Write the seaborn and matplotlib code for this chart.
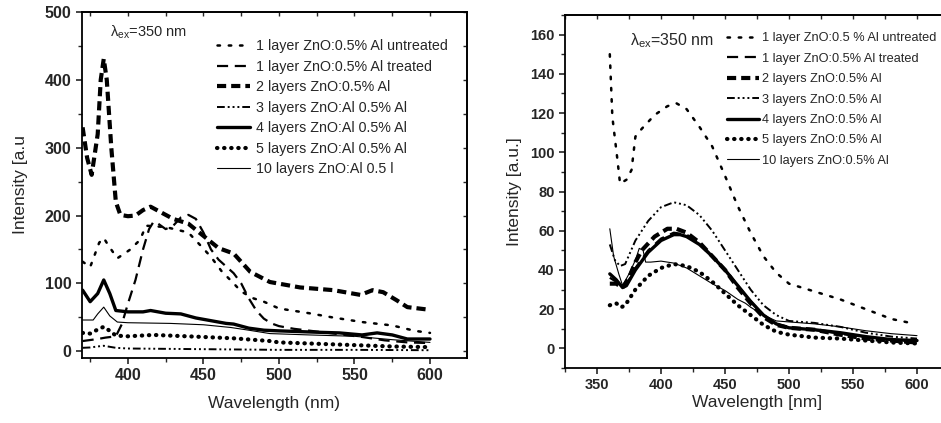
import matplotlib
matplotlib.use("Agg")
import matplotlib.pyplot as plt
from matplotlib.ticker import MultipleLocator
import seaborn as sns

# ---- left panel data ----
L_untreated_x = [370, 375, 381, 384, 387, 393, 401, 408, 412, 425, 440, 448, 455, 462, 470, 475, 483, 490, 500, 520, 535, 555, 575, 590, 600]
L_untreated_y = [132, 124, 160, 167, 156, 137, 149, 164, 185, 183, 175, 156, 139, 118, 100, 88, 78, 73, 63, 56, 50, 43, 38, 30, 27]

L_treated_x = [370, 380, 385, 392, 396, 400, 405, 410, 414, 417, 420, 425, 430, 435, 440, 445, 450, 455, 460, 465, 470, 475, 480, 485, 490, 495, 500, 510, 525, 540, 555, 570, 585, 600]
L_treated_y = [15, 18, 20, 22, 40, 70, 105, 150, 180, 191, 188, 180, 185, 197, 201, 195, 175, 150, 135, 125, 115, 100, 78, 60, 48, 41, 37, 33, 29, 25, 21, 16, 13, 12]

L_two_x = [370, 373, 376, 380, 382, 384, 386, 389, 392, 395, 400, 405, 410, 415, 420, 430, 440, 450, 460, 470, 481, 494, 514, 536, 554, 562, 569, 578, 585, 600]
L_two_y = [330, 285, 260, 320, 400, 431, 400, 300, 220, 201, 199, 200, 208, 213, 207, 195, 188, 170, 152, 144, 117, 102, 94, 90, 83, 90, 87, 75, 65, 61]

L_three_x = [370, 375, 380, 384, 388, 392, 400, 450, 500, 550, 600]
L_three_y = [5, 5.5, 7, 8, 6.5, 5, 4, 3, 2, 2, 1.5]

L_four_x = [370, 375, 380, 384, 388, 392, 400, 410, 415, 425, 435, 445, 455, 465, 470, 480, 490, 500, 525, 540, 555, 565, 575, 585, 600]
L_four_y = [90, 73, 85, 105, 85, 60, 58, 58, 60, 56, 55, 49, 45, 41, 40, 34, 31, 30, 28, 27, 24, 27, 24, 18, 18]

L_five_x = [370, 375, 380, 384, 388, 392, 400, 417, 450, 470, 494, 500, 525, 550, 575, 600]
L_five_y = [27, 26, 32, 36, 30, 23, 22, 24, 21, 19, 15, 13, 11, 9, 7, 6]

L_ten_x = [370, 377, 380, 384, 388, 393, 400, 428, 450, 468, 480, 494, 520, 550, 575, 600]
L_ten_y = [46, 46, 55, 65, 52, 43, 42, 41, 39, 35, 31, 26, 24, 22, 17, 13]

# ---- right panel data ----
R_untreated_x = [360, 362, 366, 368, 373, 377, 380, 385, 395, 405, 412, 420, 430, 440, 450, 460, 470, 480, 490, 500, 520, 540, 560, 580, 597]
R_untreated_y = [150, 118, 96, 84, 86, 91, 108, 112, 119, 123.5, 125, 122, 113, 103, 88, 72.5, 59, 47, 38.6, 33, 29, 25, 20, 15, 12.7]

R_treated_x = [360, 365, 370, 375, 380, 390, 400, 410, 420, 430, 440, 450, 460, 470, 480, 490, 500, 520, 540, 560, 580, 600]
R_treated_y = [36, 34, 31, 35, 41, 50, 56, 59, 58, 54, 47, 40, 32, 24, 17, 12.5, 10.5, 9.5, 7.5, 5.5, 4.5, 3.5]

R_two_x = [360, 365, 370, 375, 380, 385, 395, 405, 412, 420, 430, 440, 450, 460, 470, 480, 490, 500, 520, 540, 560, 580, 600]
R_two_y = [33, 33, 31, 36, 44, 50, 57, 61, 61, 59, 54, 47, 40, 31, 23, 16, 12, 10.5, 9.5, 7, 5, 4, 3]

R_three_x = [360, 364, 368, 372, 380, 390, 400, 410, 420, 430, 440, 450, 460, 470, 480, 490, 500, 520, 540, 560, 580, 600]
R_three_y = [53, 45, 42, 43, 55, 65, 72, 74.5, 73, 68, 60, 50, 40, 30, 22, 17, 14, 13, 11, 8, 6, 5]

R_four_x = [360, 365, 370, 373, 380, 390, 400, 410, 415, 420, 430, 440, 450, 460, 470, 480, 490, 500, 520, 540, 560, 580, 600]
R_four_y = [38, 35, 31, 32, 40, 49, 55, 58, 58, 57, 53, 47, 40, 32, 24, 17, 12.5, 10.5, 9.5, 8, 6, 4.5, 4]

R_five_x = [360, 365, 369, 372, 380, 390, 400, 410, 420, 430, 440, 450, 460, 470, 480, 490, 500, 520, 540, 560, 580, 600]
R_five_y = [22, 23, 21, 22, 30, 37, 41, 43, 42, 39, 34, 28, 22, 17, 12, 8.5, 7, 5.5, 5, 4, 3, 2.5]

R_ten_x = [360, 363, 367, 370, 375, 380, 383, 386, 388, 392, 400, 405, 410, 420, 430, 440, 450, 460, 466, 470, 480, 490, 500, 520, 540, 560, 580, 600]
R_ten_y = [61, 47, 38, 32, 38, 45, 51, 50, 44, 44, 44.5, 44, 43.5, 41, 37, 33, 29.5, 25, 23, 21, 17, 14, 13.5, 12.5, 11, 9, 7.5, 6.5]

L_labels = ["1 layer ZnO:0.5% Al untreated", "1 layer ZnO:0.5% Al treated", "2 layers ZnO:0.5% Al",
            "3 layers ZnO:Al 0.5% Al", "4 layers ZnO:Al 0.5% Al", "5 layers ZnO:Al 0.5% Al",
            "10 layers ZnO:Al 0.5 l"]
R_labels = ["1 layer ZnO:0.5 % Al untreated", "1 layer ZnO:0.5% Al treated", "2 layers ZnO:0.5% Al",
            "3 layers ZnO:0.5% Al", "4 layers ZnO:0.5% Al", "5 layers ZnO:0.5% Al",
            "10 layers ZnO:0.5% Al"]

# line styles: (dash pattern, width, cap)
styles = [
    dict(ls=(0, (1, 3.5)), lw=1.8, dash_capstyle="round"),
    dict(ls=(0, (5, 3)), lw=1.6),
    dict(ls=(0, (2.2, 1.2)), lw=3.0),
    dict(ls=(0, (4, 1.5, 1, 1.5, 1, 1.5, 1, 1.5)), lw=1.4),
    dict(ls="-", lw=2.4),
    dict(ls=(0, (0.1, 1.6)), lw=3.0, dash_capstyle="round"),
    dict(ls="-", lw=0.8),
]

sns.set_style("ticks")
FONT = ["Liberation Sans", "DejaVu Sans"]
plt.rcParams["font.family"] = FONT
plt.rcParams["mathtext.fontset"] = "custom"
plt.rcParams["mathtext.rm"] = "Liberation Sans"
plt.rcParams["axes.linewidth"] = 1.3

fig = plt.figure(figsize=(9.41, 4.23), dpi=100)
ax1 = fig.add_axes([82 / 941, 65 / 423, 385 / 941, 346 / 423])
ax2 = fig.add_axes([565 / 941, 55 / 423, 384 / 941, 353 / 423])


def draw(ax, xs, ys, labels):
    for x, y, lab, st in zip(xs, ys, labels, styles):
        sns.lineplot(x=x, y=y, ax=ax, color="black", label=lab, linestyle=st["ls"],
                     linewidth=st["lw"], dash_capstyle=st.get("dash_capstyle", "butt"))


def frame(ax, ymaj, ymin, size):
    ax.xaxis.set_major_locator(MultipleLocator(50))
    ax.xaxis.set_minor_locator(MultipleLocator(25))
    ax.yaxis.set_major_locator(MultipleLocator(ymaj))
    ax.yaxis.set_minor_locator(MultipleLocator(ymin))
    ax.tick_params(which="major", direction="out", length=4, width=1.2, top=False, right=False)
    ax.tick_params(which="minor", direction="out", length=3, width=1.0, top=False, right=False)
    for t in ax.get_xticklabels() + ax.get_yticklabels():
        t.set_fontweight("bold")
        t.set_fontsize(size)
    for s in ax.spines.values():
        s.set_visible(True)
        s.set_color("black")
    # inward ticks on the top and right, no labels
    top = ax.secondary_xaxis("top")
    top.xaxis.set_major_locator(MultipleLocator(25))
    top.tick_params(direction="in", length=3, width=1.0, labeltop=False)
    right = ax.secondary_yaxis("right")
    right.yaxis.set_major_locator(MultipleLocator(ymin))
    right.tick_params(direction="in", length=3, width=1.0, labelright=False)


draw(ax1, [L_untreated_x, L_treated_x, L_two_x, L_three_x, L_four_x, L_five_x, L_ten_x],
     [L_untreated_y, L_treated_y, L_two_y, L_three_y, L_four_y, L_five_y, L_ten_y], L_labels)
ax1.set_xlim(369.6, 624.5)
ax1.set_ylim(-10, 500)
frame(ax1, 100, 50, 11.5)
ax1.set_xlabel("Wavelength (nm)", fontsize=12.5, labelpad=9)
ax1.set_ylabel("Intensity [a.u", fontsize=12.5, labelpad=12)
ax1.text(388, 470, r"$\mathregular{\lambda_{ex}}$=350 nm", fontsize=10.5, va="center")
ax1.legend(loc="upper left", bbox_to_anchor=(0.351, 0.921), frameon=False, fontsize=10.3,
           handlelength=2.3, handletextpad=0.4, labelspacing=0.45, borderaxespad=0,
           borderpad=0)

draw(ax2, [R_untreated_x, R_treated_x, R_two_x, R_three_x, R_four_x, R_five_x, R_ten_x],
     [R_untreated_y, R_treated_y, R_two_y, R_three_y, R_four_y, R_five_y, R_ten_y], R_labels)
ax2.set_xlim(325, 625)
ax2.set_ylim(-10, 170)
frame(ax2, 20, 10, 10.5)
ax2.set_xlabel("Wavelength [nm]", fontsize=12.5, labelpad=2)
ax2.set_ylabel("Intensity [a.u.]", fontsize=12.5, labelpad=6)
ax2.text(376, 157, r"$\mathregular{\lambda_{ex}}$=350 nm", fontsize=11.5, va="center")
ax2.legend(loc="upper left", bbox_to_anchor=(0.421, 0.951), frameon=False, fontsize=9.2,
           handlelength=2.5, handletextpad=0.3, labelspacing=0.66, borderaxespad=0,
           borderpad=0)

fig.savefig("out.png", dpi=100)
